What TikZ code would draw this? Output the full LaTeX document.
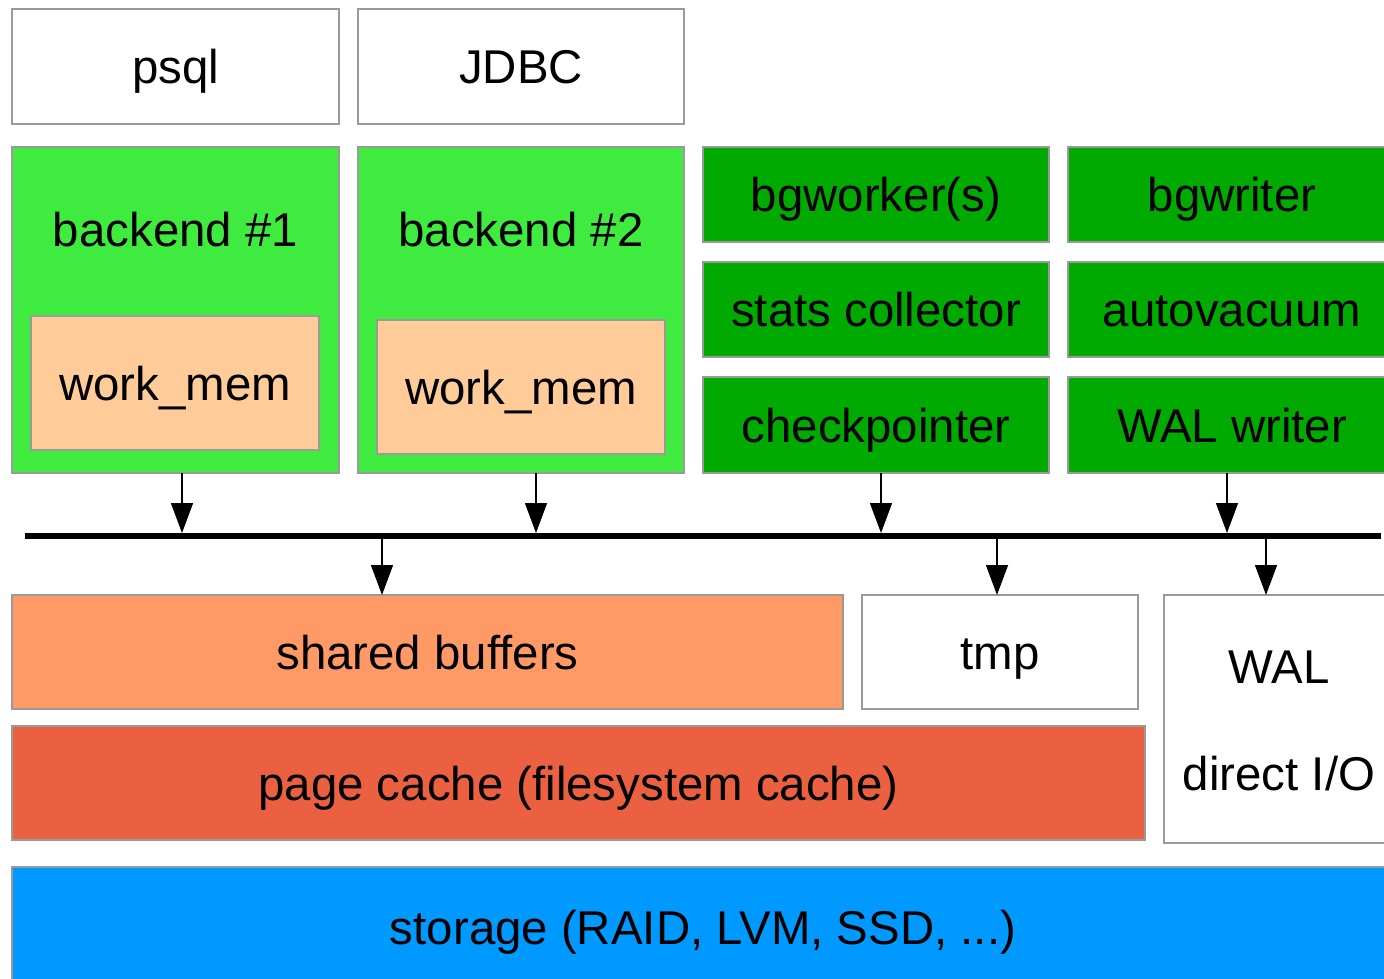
\documentclass[tikz,border=0pt]{standalone}
\usepackage{fontspec}
\setmainfont{Liberation Sans}
\usetikzlibrary{arrows.meta}

\definecolor{edge}{HTML}{9A9A9A}
\definecolor{procgreen}{HTML}{3EEB3E}
\definecolor{auxgreen}{HTML}{00AA00}
\definecolor{workmemc}{HTML}{FFCC99}
\definecolor{sharedc}{HTML}{FF9966}
\definecolor{pagecachec}{HTML}{EA6040}
\definecolor{storagec}{HTML}{0099FF}

\tikzset{
  box/.style={draw=edge, line width=1.3pt, rectangle, inner sep=0pt, outer sep=0pt,
    anchor=north west, font=\fontsize{47.4}{52}\selectfont,
    text height=34pt, text depth=0pt, align=center},
  lbl/.style={inner sep=0pt, font=\fontsize{47.4}{52}\selectfont, text height=34pt, text depth=0pt},
  arr/.style={line width=1.4pt, -{Triangle[width=22pt,length=30pt]}},
  busline/.style={line width=6pt}
}

\begin{document}
\begin{tikzpicture}[x=1pt,y=-1pt]
\useasboundingbox (0,0) rectangle (1384,979);

% client programs
\node[box, fill=white, minimum width=327pt, minimum height=115pt] (psql) at (12,9) {psql};
\node[box, fill=white, minimum width=326pt, minimum height=115pt] (jdbc) at (358,9) {JDBC};

% backends with their work_mem
\node[box, fill=procgreen, minimum width=327pt, minimum height=326pt] (b1) at (12,147) {};
\node[lbl] (b1t) at (175.5,229) {backend \#1};
\node[box, fill=workmemc, minimum width=288pt, minimum height=134pt] (wm1) at (31,316) {work\_mem};

\node[box, fill=procgreen, minimum width=326pt, minimum height=326pt] (b2) at (358,147) {};
\node[lbl] (b2t) at (521,229) {backend \#2};
\node[box, fill=workmemc, minimum width=288pt, minimum height=134pt] (wm2) at (377,320) {work\_mem};

% auxiliary processes
\node[box, fill=auxgreen, minimum width=346pt, minimum height=95pt] (bgw) at (703,147) {bgworker(s)};
\node[box, fill=auxgreen, minimum width=346pt, minimum height=95pt] (stats) at (703,262) {stats collector};
\node[box, fill=auxgreen, minimum width=346pt, minimum height=96pt] (ckpt) at (703,377) {checkpointer};
\node[box, fill=auxgreen, minimum width=328pt, minimum height=95pt] (bgwr) at (1068,147) {bgwriter};
\node[box, fill=auxgreen, minimum width=328pt, minimum height=95pt] (autov) at (1068,262) {autovacuum};
\node[box, fill=auxgreen, minimum width=328pt, minimum height=96pt] (walw) at (1068,377) {WAL writer};

% shared bus
\coordinate (busL) at (25,536);
\coordinate (busR) at (1381,536);
\draw[busline] (busL) -- (busR);

% memory and files
\node[box, fill=sharedc, minimum width=831pt, minimum height=114pt] (sb) at (12,595) {shared buffers};
\node[box, fill=white, minimum width=276pt, minimum height=114pt] (tmp) at (862,595) {tmp};
\node[box, fill=white, minimum width=230pt, minimum height=248pt] (wal) at (1164,595) {};
\node[lbl] (walt) at (1279,666) {WAL};
\node[lbl] (diot) at (1279,773) {direct I/O};
\node[box, fill=pagecachec, minimum width=1133pt, minimum height=114pt] (pc) at (12,726) {page cache (filesystem cache)};
\node[box, fill=storagec, minimum width=1382pt, minimum height=120pt] (st) at (12,867) {storage (RAID, LVM, SSD, ...)};

% processes writing onto the bus
\draw[arr, shorten >=3pt] ([xshift=6.5pt]b1.south) -- ([xshift=6.5pt]b1.south |- busL);
\draw[arr, shorten >=3pt] ([xshift=15pt]b2.south) -- ([xshift=15pt]b2.south |- busL);
\draw[arr, shorten >=3pt] ([xshift=5pt]ckpt.south) -- ([xshift=5pt]ckpt.south |- busL);
\draw[arr, shorten >=3pt] ([xshift=-5pt]walw.south) -- ([xshift=-5pt]walw.south |- busL);

% bus feeding the targets
\draw[arr, shorten <=3pt] ([xshift=-45.5pt]sb.north |- busL) -- ([xshift=-45.5pt]sb.north);
\draw[arr, shorten <=3pt] ([xshift=-3pt]tmp.north |- busL) -- ([xshift=-3pt]tmp.north);
\draw[arr, shorten <=3pt] ([xshift=-13pt]wal.north |- busL) -- ([xshift=-13pt]wal.north);
\end{tikzpicture}
\end{document}
